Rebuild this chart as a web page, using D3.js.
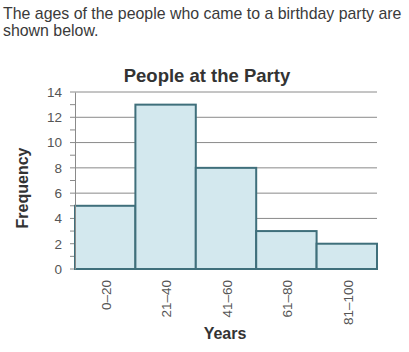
<!DOCTYPE html>
<html>
<head>
<meta charset="utf-8">
<script src="https://cdn.jsdelivr.net/npm/d3@7"></script>
<style>
  body { margin: 0; background: #fff; }
  svg { font-family: Arial, "Liberation Sans", sans-serif; }
</style>
</head>
<body>
<div id="chart"></div>
<script>
const ageGroups = ['0–20', '21–40', '41–60', '61–80', '81–100'];
const frequencies = [5, 13, 8, 3, 2];
const yTicks = [0, 2, 4, 6, 8, 10, 12, 14];

const width = 409, height = 352,
  margin = { left: 75, top: 92, right: 32, bottom: 83 };
const font = 'Arial, "Liberation Sans", sans-serif';

const svg = d3.select('#chart')
  .append('svg')
  .attr('width', width)
  .attr('height', height)

// question text
const intro = svg.append('text')
  .attr('y', 19)
  .style('font-size', '15.9px')
  .attr('fill', '#3a3a3a')
intro.append('tspan').attr('x', 3).attr('dy', 0)
  .text('The ages of the people who came to a birthday party are')
intro.append('tspan').attr('x', 3).attr('dy', 17)
  .text('shown below.')

const x = d3.scaleBand()
  .domain(ageGroups)
  .range([margin.left, width - margin.right])
  .padding(0)

const y = d3.scaleLinear()
  .domain([0, 14])
  .range([height - margin.bottom, margin.top])

const g = svg.append('g')

// gridlines
g.selectAll('.grid')
  .data(yTicks.filter(d => d > 0))
  .enter()
  .append('line')
  .attr('x1', margin.left)
  .attr('x2', width - margin.right)
  .attr('y1', d => y(d))
  .attr('y2', d => y(d))
  .attr('stroke', '#8a8a8a')
  .attr('stroke-width', 1)

// minor ticks
g.selectAll('.minor')
  .data(d3.range(0, 15))
  .enter()
  .append('line')
  .attr('x1', margin.left - 5)
  .attr('x2', margin.left)
  .attr('y1', d => y(d))
  .attr('y2', d => y(d))
  .attr('stroke', '#8a8a8a')

// bars
g.selectAll('.bar')
  .data(frequencies)
  .enter()
  .append('rect')
  .attr('x', (d, i) => x(ageGroups[i]))
  .attr('y', d => y(d))
  .attr('width', x.bandwidth())
  .attr('height', d => y(0) - y(d))
  .attr('fill', '#d3e8ee')
  .attr('stroke', '#3f6f7b')
  .attr('stroke-width', 2)

// y axis
const yAxis = g.append('g')
  .attr('transform', `translate(${margin.left},0)`)
  .call(d3.axisLeft(y).tickValues(yTicks).tickSize(0).tickPadding(13))
yAxis.select('.domain').attr('stroke', '#8a8a8a')
yAxis.selectAll('text')
  .style('font-size', '13.5px')
  .style('font-family', font)
  .attr('fill', '#555')

// x labels
const xAxis = g.append('g')
  .attr('transform', `translate(0,${y(0)})`)
  .call(d3.axisBottom(x).tickSize(0).tickPadding(0))
xAxis.select('.domain').remove()
xAxis.selectAll('text')
  .style('font-size', '13.5px')
  .style('font-family', font)
  .attr('fill', '#555')
  .attr('transform', 'rotate(-90)')
  .attr('text-anchor', 'end')
  .attr('x', -11)
  .attr('y', 1)
  .attr('dy', '0.35em')

// titles
svg.append('text')
  .attr('x', 207)
  .attr('y', 82)
  .attr('text-anchor', 'middle')
  .style('font-size', '18.5px')
  .attr('font-weight', 'bold')
  .attr('fill', '#333')
  .text('People at the Party')

svg.append('text')
  .attr('x', 225)
  .attr('y', 339)
  .attr('text-anchor', 'middle')
  .style('font-size', '16px')
  .attr('font-weight', 'bold')
  .attr('fill', '#333')
  .text('Years')

svg.append('text')
  .attr('transform', 'translate(28,188) rotate(-90)')
  .attr('text-anchor', 'middle')
  .style('font-size', '16px')
  .attr('font-weight', 'bold')
  .attr('fill', '#333')
  .text('Frequency')
</script>
</body>
</html>
